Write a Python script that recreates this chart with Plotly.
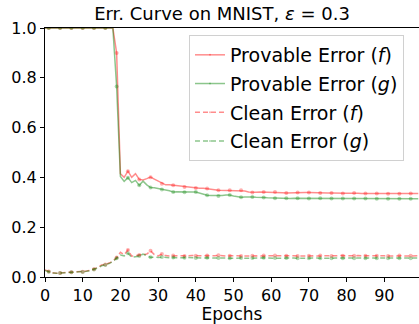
import plotly.graph_objects as go

epochs = list(range(100))

prov_f = [1.0] * 19 + [
    0.90,
    0.415, 0.400, 0.425, 0.400, 0.415, 0.392, 0.390, 0.395, 0.401, 0.393,
    0.385, 0.375, 0.370, 0.370, 0.368, 0.366, 0.364, 0.361, 0.361, 0.359,
    0.357, 0.356, 0.356, 0.355, 0.352, 0.350, 0.348, 0.348, 0.347, 0.348,
    0.347, 0.347, 0.348, 0.345, 0.341, 0.339, 0.340, 0.341, 0.341, 0.340,
    0.340, 0.341, 0.339, 0.338, 0.337, 0.338, 0.339, 0.339, 0.338, 0.339,
    0.339, 0.338, 0.337, 0.337, 0.337, 0.337, 0.337, 0.336, 0.336, 0.335,
    0.336, 0.336, 0.337, 0.336, 0.335, 0.335, 0.335, 0.335, 0.335, 0.335,
    0.334, 0.334, 0.334, 0.334, 0.334, 0.334, 0.334, 0.335, 0.335, 0.335,
]

prov_g = [1.0] * 19 + [
    0.765,
    0.404, 0.384, 0.399, 0.379, 0.388, 0.368, 0.385, 0.370, 0.359, 0.358,
    0.356, 0.351, 0.349, 0.346, 0.341, 0.342, 0.341, 0.340, 0.341, 0.341,
    0.341, 0.336, 0.332, 0.328, 0.327, 0.326, 0.325, 0.327, 0.329, 0.329,
    0.325, 0.321, 0.320, 0.321, 0.322, 0.321, 0.320, 0.321, 0.319, 0.318,
    0.317, 0.316, 0.316, 0.316, 0.316, 0.315, 0.316, 0.316, 0.315, 0.315,
    0.315, 0.315, 0.315, 0.316, 0.315, 0.315, 0.315, 0.315, 0.314, 0.315,
    0.315, 0.315, 0.315, 0.314, 0.314, 0.315, 0.315, 0.314, 0.314, 0.314,
    0.314, 0.314, 0.314, 0.314, 0.314, 0.314, 0.314, 0.314, 0.314, 0.314,
]

clean_f = [
    0.028, 0.022, 0.017, 0.015, 0.016, 0.018, 0.019, 0.019, 0.019, 0.020,
    0.021, 0.024, 0.027, 0.031, 0.038, 0.048, 0.050, 0.056, 0.064, 0.078,
    0.099, 0.090, 0.108, 0.084, 0.087, 0.088, 0.090, 0.092, 0.105, 0.090,
    0.085, 0.092, 0.086, 0.084, 0.086, 0.085, 0.085, 0.084, 0.085, 0.086,
    0.085, 0.084, 0.085, 0.086, 0.085, 0.085, 0.087, 0.085, 0.084, 0.085,
    0.086, 0.085, 0.084, 0.085, 0.086, 0.085, 0.085, 0.084, 0.086, 0.085,
    0.085, 0.086, 0.084, 0.085, 0.085, 0.086, 0.085, 0.084, 0.085, 0.086,
    0.085, 0.085, 0.084, 0.086, 0.085, 0.085, 0.084, 0.085, 0.086, 0.085,
    0.085, 0.084, 0.085, 0.086, 0.085, 0.085, 0.084, 0.085, 0.085, 0.086,
    0.085, 0.084, 0.085, 0.085, 0.086, 0.085, 0.084, 0.085, 0.085, 0.085,
]

clean_g = [
    0.026, 0.021, 0.016, 0.015, 0.016, 0.017, 0.018, 0.019, 0.019, 0.019,
    0.020, 0.023, 0.026, 0.030, 0.036, 0.045, 0.048, 0.054, 0.062, 0.075,
    0.088, 0.085, 0.095, 0.079, 0.081, 0.084, 0.092, 0.085, 0.079, 0.080,
    0.078, 0.080, 0.078, 0.077, 0.078, 0.077, 0.076, 0.077, 0.078, 0.077,
    0.076, 0.077, 0.076, 0.077, 0.078, 0.076, 0.076, 0.077, 0.076, 0.075,
    0.076, 0.077, 0.076, 0.075, 0.076, 0.076, 0.075, 0.076, 0.077, 0.076,
    0.075, 0.076, 0.076, 0.075, 0.076, 0.077, 0.076, 0.075, 0.076, 0.076,
    0.075, 0.076, 0.076, 0.075, 0.076, 0.076, 0.075, 0.076, 0.076, 0.075,
    0.076, 0.076, 0.075, 0.076, 0.076, 0.075, 0.076, 0.076, 0.075, 0.076,
    0.076, 0.075, 0.076, 0.076, 0.075, 0.076, 0.076, 0.075, 0.076, 0.076,
]

series_names = ["Provable Error (<i>f</i>)", "Provable Error (<i>g</i>)",
                "Clean Error (<i>f</i>)", "Clean Error (<i>g</i>)"]

RED = "rgba(255,0,0,0.45)"
GREEN = "rgba(0,128,0,0.45)"
FONT = "DejaVu Sans"

marker_sizes = [4 if (i - 1) % 3 == 0 else 0 for i in range(len(epochs))]

fig = go.Figure()
specs = [
    (prov_f, RED, "solid"),
    (prov_g, GREEN, "solid"),
    (clean_f, RED, "5px,3px"),
    (clean_g, GREEN, "5px,3px"),
]
for k, ((vals, col, dash), name) in enumerate(zip(specs, series_names)):
    fig.add_trace(go.Scatter(
        x=epochs, y=vals, name=name, mode="lines+markers",
        line=dict(color=col, width=1.5, dash=dash),
        marker=dict(color=col, size=marker_sizes, line=dict(width=0)),
        legendgroup=f"g{k}",
    ))

fig.update_layout(
    width=419, height=324,
    margin=dict(l=45, r=0, t=28, b=47),
    paper_bgcolor="white", plot_bgcolor="white",
    font=dict(family=FONT, size=16, color="black"),
    title=dict(text="Err. Curve on MNIST, <i>ε</i> = 0.3",
               x=222 / 419, xref="container", xanchor="center",
               y=1 - 14 / 324, yref="container", yanchor="middle",
               font=dict(family=FONT, size=18, color="black")),
    legend=dict(x=0.385, y=0.972, xanchor="left", yanchor="top",
                bgcolor="rgba(255,255,255,0.8)", bordercolor="#d0d0d0",
                borderwidth=1, font=dict(family=FONT, size=19),
                traceorder="grouped", tracegroupgap=1),
    showlegend=True,
)
fig.update_xaxes(
    range=[0, 99.2], tickmode="array", tickvals=list(range(0, 100, 10)),
    tickfont=dict(size=16),
    showgrid=False, zeroline=False, showline=True, linecolor="black",
    linewidth=1, mirror=True, ticks="outside", ticklen=4, tickcolor="black",
    title=dict(text="Epochs", standoff=0, font=dict(size=17)),
    automargin=False,
)
fig.update_yaxes(
    range=[0, 1], tickmode="array", tickvals=[0, 0.2, 0.4, 0.6, 0.8, 1.0],
    tickformat=".1f", tickfont=dict(size=16),
    showgrid=False, zeroline=False, showline=True,
    linecolor="black", linewidth=1, ticks="outside", ticklen=4,
    tickcolor="black", automargin=False,
)

fig.write_html(
    "out.html",
    config={"displayModeBar": False},
    post_script="document.body.style.margin='0';document.body.style.padding='0';document.body.style.overflow='hidden';",
)
